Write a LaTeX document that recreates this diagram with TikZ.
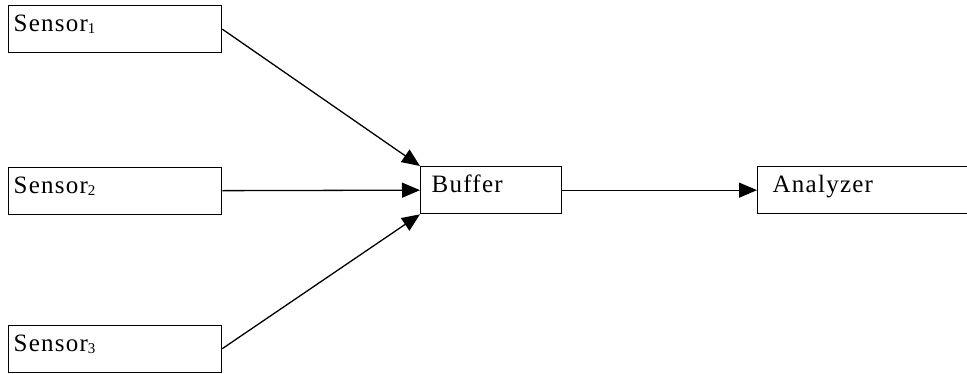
\documentclass[tikz,border=0pt]{standalone}
\usepackage{fontspec}
\setmainfont{Liberation Serif}[LetterSpace=5]
\usetikzlibrary{arrows.meta}
\newcommand{\subdig}[1]{\raisebox{-2pt}{\fontsize{15}{15}\selectfont #1}}
\begin{document}
\begin{tikzpicture}[x=1pt,y=-1pt,
  box/.style={draw=black, line width=1.3pt, anchor=north west, align=left,
    text height=26pt, text depth=21pt, inner ysep=0pt, inner xsep=5pt,
    font=\fontsize{25}{29}\selectfont},
  conn/.style={line width=1.3pt, -{Triangle[length=18pt,width=15pt]}}]
\path[use as bounding box, clip] (0,0) rectangle (967,373);
\node[box, text width=203pt] (s1) at (8,5) {Sensor\subdig{1}};
\node[box, text width=203pt] (s2) at (8,166.5) {Sensor\subdig{2}};
\node[box, text width=203pt] (s3) at (8,324.5) {Sensor\subdig{3}};
\node[box, text width=119pt, inner xsep=11pt] (buf) at (420,166) {Buffer};
\node[box, text width=190pt, inner xsep=15pt] (ana) at (757,166) {Analyzer};
\draw[conn] (s1.east) -- (buf.north west);
\draw[conn] (s2.east) -- (buf.west);
\draw[conn] (s3.east) -- (buf.south west);
\draw[conn] (buf.east) -- (ana.west);
\end{tikzpicture}
\end{document}
